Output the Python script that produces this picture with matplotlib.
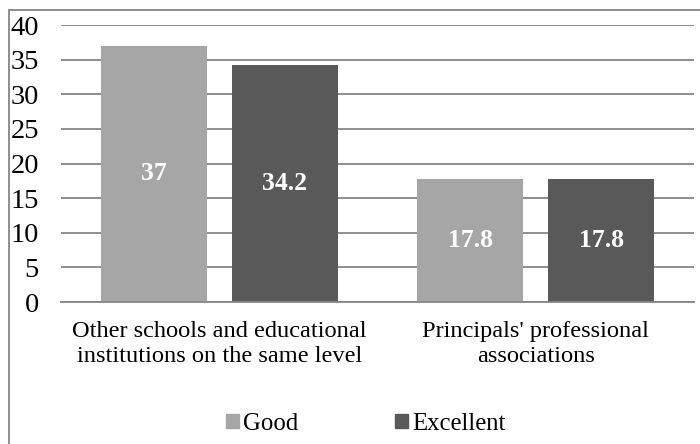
import matplotlib.pyplot as plt
from matplotlib.patches import Rectangle, Patch
import numpy as np

categories = ["Other schools and educational\ninstitutions on the same level",
              "Principals' professional\nassociations"]
series_names = ["Good", "Excellent"]
good = [37, 17.8]
excellent = [34.2, 17.8]
yticks = [0, 5, 10, 15, 20, 25, 30, 35, 40]

colors = ["#a6a6a6", "#595959"]

plt.rcParams['font.family'] = ['Liberation Serif', 'DejaVu Serif']

fig = plt.figure(figsize=(7.0, 4.44), dpi=100)
ax = fig.add_axes([61 / 700, 1 - 302 / 444, (694 - 61) / 700, (302 - 25) / 444])

x = np.arange(len(categories))
w = 0.335
off = 0.207
for vals, name, c, dx in [(good, series_names[0], colors[0], -off),
                          (excellent, series_names[1], colors[1], off)]:
    bars = ax.bar(x + dx, vals, width=w, color=c, zorder=2)
    for b, v in zip(bars, vals):
        ax.text(b.get_x() + b.get_width() / 2, v / 2, f"{v:g}",
                ha='center', va='center', color='white',
                fontsize=18.5, fontweight='bold', zorder=3)

ax.set_xlim(-0.5, 1.5)
ax.set_ylim(0, 40)
ax.set_yticks(yticks)
ax.yaxis.grid(True, color='#868686', linewidth=1.3, zorder=0)
ax.set_axisbelow(True)
for s in ['left', 'right', 'top']:
    ax.spines[s].set_visible(False)
ax.spines['bottom'].set_color('#868686')
ax.spines['bottom'].set_linewidth(1.3)
ax.tick_params(axis='both', length=0)
ax.tick_params(axis='y', labelsize=20.5, pad=16)
ax.set_xticks(x)
ax.set_xticklabels(categories, fontsize=17.6, linespacing=1.2)
ax.tick_params(axis='x', pad=14)

handles = [Patch(color=c, label=n) for c, n in zip(colors, series_names)]
fig.legend(handles=handles, loc='center', bbox_to_anchor=(366 / 700, 1 - 424 / 444),
           ncol=2, frameon=False, fontsize=17.8, handlelength=0.5, handleheight=0.5,
           handletextpad=0.2, columnspacing=3.9)

# outer chart border
fig.patches.append(Rectangle((9 / 700, -0.1), 1.2, 1 - 10 / 444 + 0.1,
                             transform=fig.transFigure, fill=False,
                             edgecolor='#868686', linewidth=1.3))

fig.savefig("out.png", dpi=100)
